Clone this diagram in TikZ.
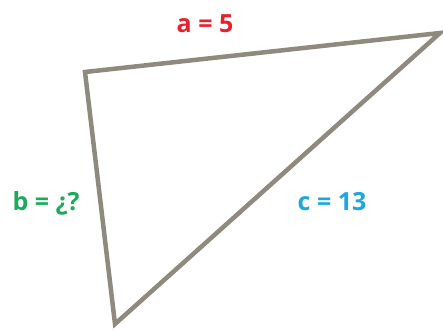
\documentclass[tikz,border=0pt]{standalone}
\usepackage{fontspec}
\setmainfont{Open Sans}[UprightFont=* Bold]
\definecolor{edgegray}{HTML}{8F8A7E}
\definecolor{lred}{HTML}{E8202A}
\definecolor{lgreen}{HTML}{1DAA5A}
\definecolor{lblue}{HTML}{1EA6E0}
\begin{document}
\begin{tikzpicture}[x=1pt,y=-1pt,
  edge/.style={draw=edgegray,line width=4.5pt,line join=miter},
  lab/.style={font=\fontsize{25}{28}\selectfont,inner sep=0pt}]
\useasboundingbox (0,0) rectangle (443,331);
\coordinate (A) at (85,72);
\coordinate (B) at (440,33);
\coordinate (C) at (115,324);
\draw[edge] (A) -- (B) -- (C) -- cycle;
\node[lab,text=lred] (la) at (205,24) {a = 5};
\node[lab,text=lgreen] (lb) at (46,203) {b = ¿?};
\node[lab,text=lblue] (lc) at (332,202) {c = 13};
\end{tikzpicture}
\end{document}
